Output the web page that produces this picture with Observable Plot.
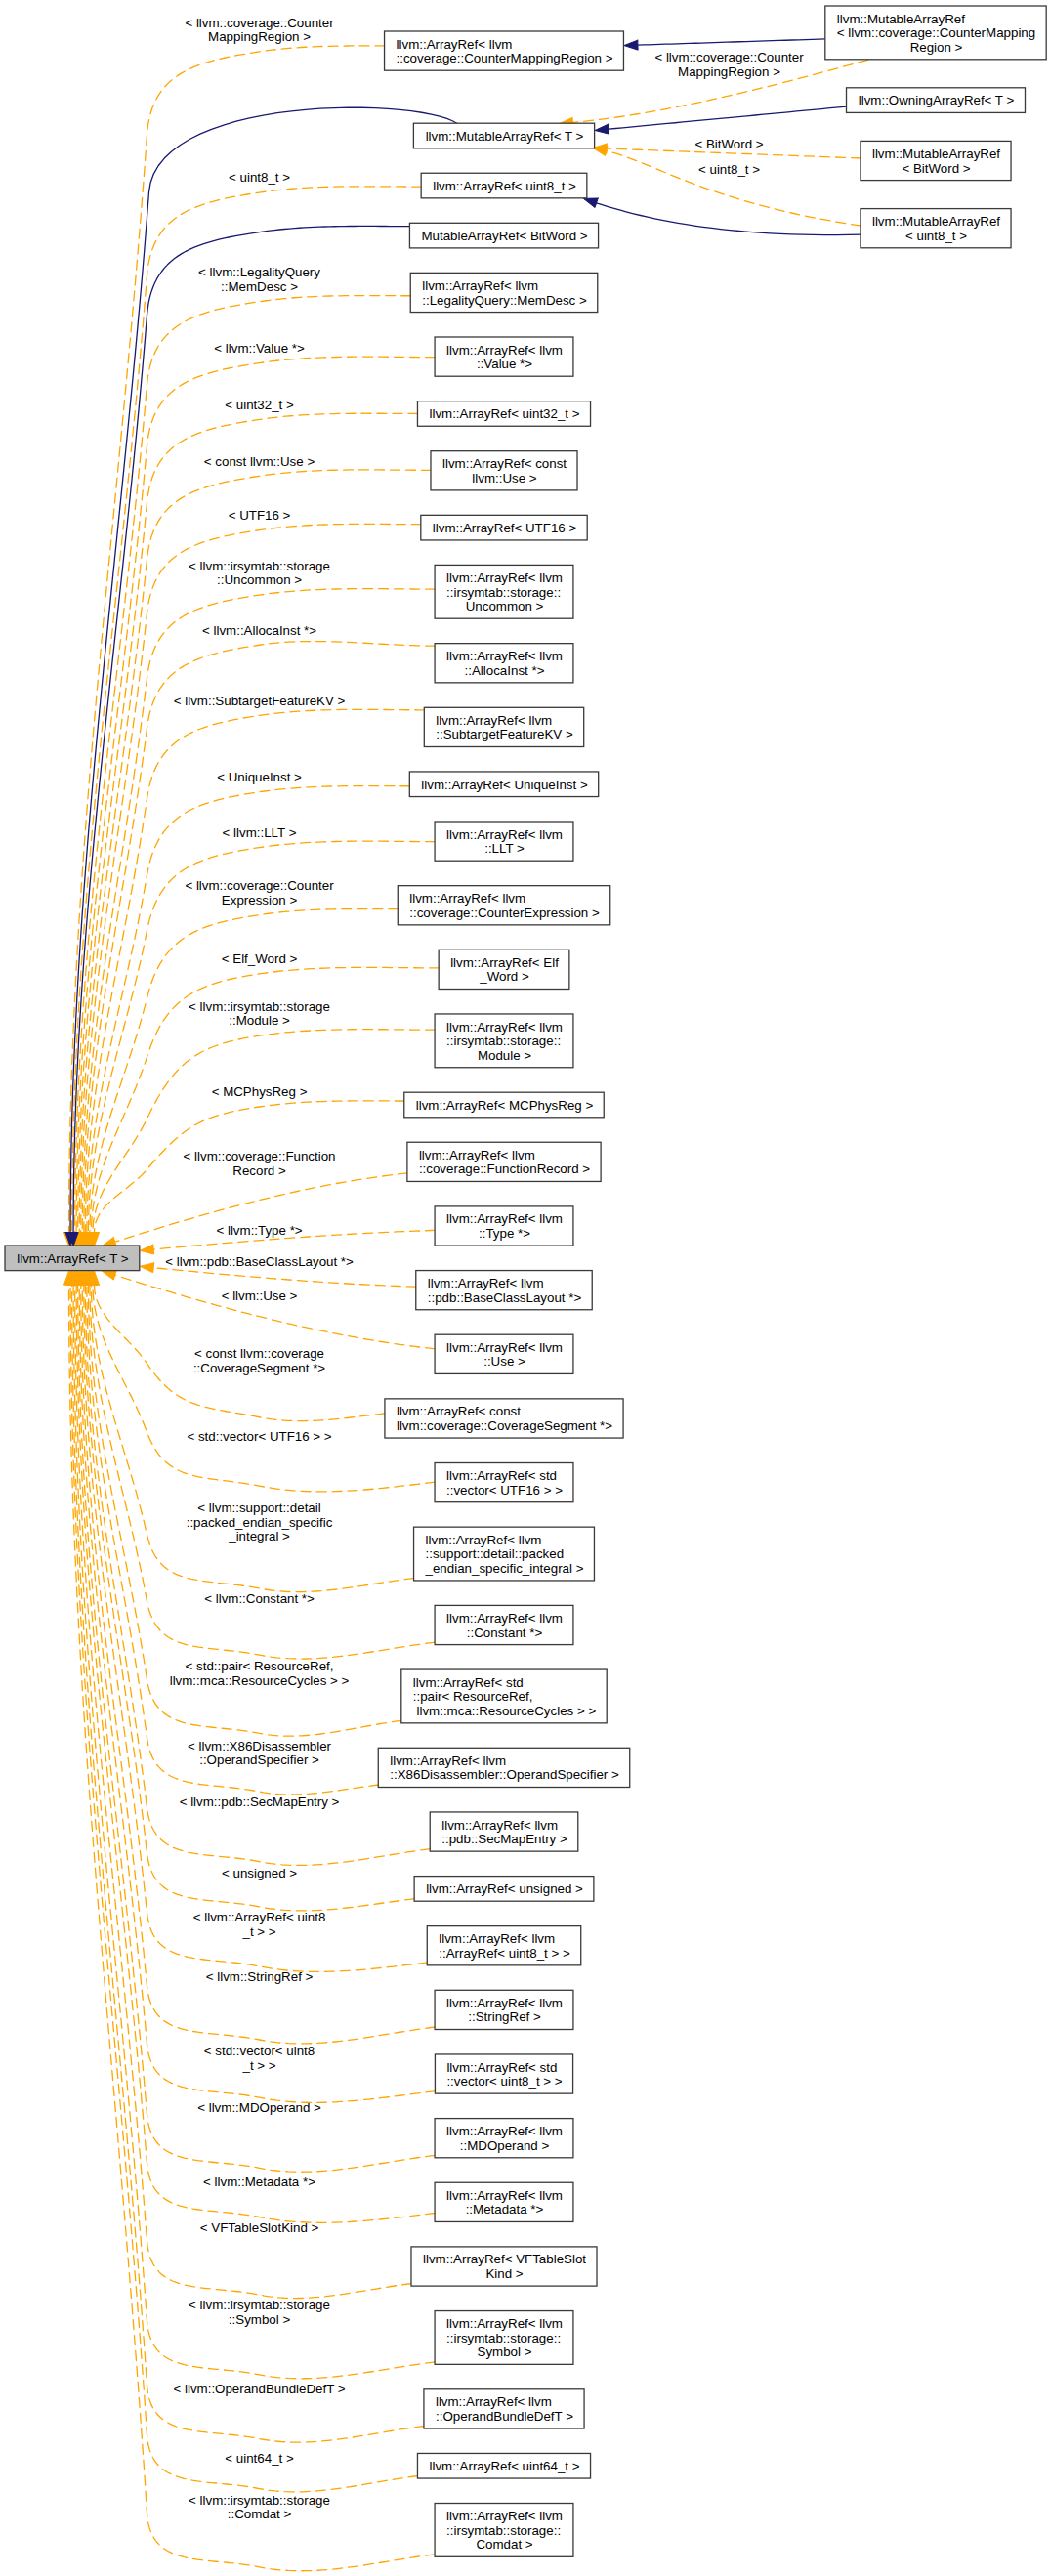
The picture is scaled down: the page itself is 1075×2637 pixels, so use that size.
<!DOCTYPE html>
<html>
<head>
<meta charset="utf-8">
<script src="https://cdn.jsdelivr.net/npm/d3@7"></script>
<script src="https://cdn.jsdelivr.net/npm/@observablehq/plot@0.6"></script>
<style>
  html, body { margin: 0; padding: 0; background: #fff; }
  #chart svg { display: block; }
</style>
</head>
<body>
<div id="chart"></div>
<script>
// ---------------- data ----------------
const rootName = "llvm::ArrayRef< T >";

const columnLabels = [
  "llvm::ArrayRef< llvm\n::coverage::CounterMappingRegion >",
  "llvm::MutableArrayRef< T >",
  "llvm::ArrayRef< uint8_t >",
  "MutableArrayRef< BitWord >",
  "llvm::ArrayRef< llvm\n::LegalityQuery::MemDesc >",
  "llvm::ArrayRef< llvm\n::Value *>",
  "llvm::ArrayRef< uint32_t >",
  "llvm::ArrayRef< const\nllvm::Use >",
  "llvm::ArrayRef< UTF16 >",
  "llvm::ArrayRef< llvm\n::irsymtab::storage::\nUncommon >",
  "llvm::ArrayRef< llvm\n::AllocaInst *>",
  "llvm::ArrayRef< llvm\n::SubtargetFeatureKV >",
  "llvm::ArrayRef< UniqueInst >",
  "llvm::ArrayRef< llvm\n::LLT >",
  "llvm::ArrayRef< llvm\n::coverage::CounterExpression >",
  "llvm::ArrayRef< Elf\n_Word >",
  "llvm::ArrayRef< llvm\n::irsymtab::storage::\nModule >",
  "llvm::ArrayRef< MCPhysReg >",
  "llvm::ArrayRef< llvm\n::coverage::FunctionRecord >",
  "llvm::ArrayRef< llvm\n::Type *>",
  "llvm::ArrayRef< llvm\n::pdb::BaseClassLayout *>",
  "llvm::ArrayRef< llvm\n::Use >",
  "llvm::ArrayRef< const\nllvm::coverage::CoverageSegment *>",
  "llvm::ArrayRef< std\n::vector< UTF16 > >",
  "llvm::ArrayRef< llvm\n::support::detail::packed\n_endian_specific_integral >",
  "llvm::ArrayRef< llvm\n::Constant *>",
  "llvm::ArrayRef< std\n::pair< ResourceRef,\n llvm::mca::ResourceCycles > >",
  "llvm::ArrayRef< llvm\n::X86Disassembler::OperandSpecifier >",
  "llvm::ArrayRef< llvm\n::pdb::SecMapEntry >",
  "llvm::ArrayRef< unsigned >",
  "llvm::ArrayRef< llvm\n::ArrayRef< uint8_t > >",
  "llvm::ArrayRef< llvm\n::StringRef >",
  "llvm::ArrayRef< std\n::vector< uint8_t > >",
  "llvm::ArrayRef< llvm\n::MDOperand >",
  "llvm::ArrayRef< llvm\n::Metadata *>",
  "llvm::ArrayRef< VFTableSlot\nKind >",
  "llvm::ArrayRef< llvm\n::irsymtab::storage::\nSymbol >",
  "llvm::ArrayRef< llvm\n::OperandBundleDefT >",
  "llvm::ArrayRef< uint64_t >",
  "llvm::ArrayRef< llvm\n::irsymtab::storage::\nComdat >"
];

// "t" = template instance (dashed orange), "p" = public inheritance (solid navy)
const columnEdgeKinds = [
  "t","p","t","p","t","t","t","t","t","t",
  "t","t","t","t","t","t","t","t","t","t",
  "t","t","t","t","t","t","t","t","t","t",
  "t","t","t","t","t","t","t","t","t","t"
];

const columnEdgeLabels = [
  "< llvm::coverage::Counter\nMappingRegion >", null, "< uint8_t >", null,
  "< llvm::LegalityQuery\n::MemDesc >", "< llvm::Value *>", "< uint32_t >",
  "< const llvm::Use >", "< UTF16 >", "< llvm::irsymtab::storage\n::Uncommon >",
  "< llvm::AllocaInst *>", "< llvm::SubtargetFeatureKV >", "< UniqueInst >",
  "< llvm::LLT >", "< llvm::coverage::Counter\nExpression >", "< Elf_Word >",
  "< llvm::irsymtab::storage\n::Module >", "< MCPhysReg >",
  "< llvm::coverage::Function\nRecord >", "< llvm::Type *>",
  "< llvm::pdb::BaseClassLayout *>", "< llvm::Use >",
  "< const llvm::coverage\n::CoverageSegment *>", "< std::vector< UTF16 > >",
  "< llvm::support::detail\n::packed_endian_specific\n_integral >",
  "< llvm::Constant *>", "< std::pair< ResourceRef,\nllvm::mca::ResourceCycles > >",
  "< llvm::X86Disassembler\n::OperandSpecifier >", "< llvm::pdb::SecMapEntry >",
  "< unsigned >", "< llvm::ArrayRef< uint8\n_t > >", "< llvm::StringRef >",
  "< std::vector< uint8\n_t > >", "< llvm::MDOperand >", "< llvm::Metadata *>",
  "< VFTableSlotKind >", "< llvm::irsymtab::storage\n::Symbol >",
  "< llvm::OperandBundleDefT >", "< uint64_t >", "< llvm::irsymtab::storage\n::Comdat >"
];

// vertical shift of each edge label relative to its class box (layout)
const columnLabelShift = [
  -22, 0, -8.5, 0, -13.5, -9, -9.5, -10, -13, -19.5,
  -34, -27.5, -7.5, -9, -13, -11, -28, -13.5, 1.5, 4.5,
  -29, -60, -59, -47, -32.5, -27, -24, -15, -30.5, -16.5,
  -22, -34, -16.5, -31, -21, -40, -26, -21, -8, -23.5
];

const outerLabels = [
  "llvm::MutableArrayRef\n< llvm::coverage::CounterMapping\nRegion >",
  "llvm::OwningArrayRef< T >",
  "llvm::MutableArrayRef\n< BitWord >",
  "llvm::MutableArrayRef\n< uint8_t >"
];
const outerEdgeFrom   = [0, 0, 1, 2, 3, 3];      // index into outerLabels
const outerEdgeTo     = [0, 1, 1, 1, 1, 2];      // index into columnLabels
const outerEdgeKinds  = ["p", "t", "p", "t", "t", "p"];
const outerEdgeLabels = [null, "< llvm::coverage::Counter\nMappingRegion >", null, "< BitWord >", "< uint8_t >", null];
const outerLabelShift = [0, 32.5, 0, -17.5, -60.5, 0];

// ---------------- layout ----------------
const W = 1075, H = 2637;
const FS = 13.33, LH = 14.6, PAD = 11.5;
const FONT = '"Liberation Sans", Arial, Helvetica, sans-serif';
const ORANGE = "#FFA500", NAVY = "#191970", BORDER = "#3a3a3a";
const AL = 14, AW = 5;              // arrow length / half width
const COL_X = 516, COL_TOP = 32, GAP = 25.45, FIRST_GAP = 54;
const OUT_X = 958, OUT_TOP = 6, OUT_GAP = 29;
const ROOT_LEFT = 5, TURN_X = 150, RIGHT_LABEL_X = 746;

const ctx = document.createElement("canvas").getContext("2d");
ctx.font = `${FS}px ${FONT}`;
function makeNode(label) {
  const lines = label.split("\n");
  const w = Math.max(...lines.map(s => ctx.measureText(s).width)) + 2 * PAD;
  return {label, lines, w, h: 11 + LH * lines.length};
}
function place(n, cx, top) {
  n.x = cx; n.top = top; n.bottom = top + n.h; n.y = top + n.h / 2;
  n.left = cx - n.w / 2; n.right = cx + n.w / 2;
}
const clamp = (v, a, b) => Math.max(a, Math.min(b, v));
const norm = v => { const l = Math.hypot(v[0], v[1]); return [v[0] / l, v[1] / l]; };
const add = (a, v, s = 1) => [a[0] + v[0] * s, a[1] + v[1] * s];
const dist = (a, b) => Math.hypot(a[0] - b[0], a[1] - b[1]);
function cubic(p0, p1, p2, p3, n = 30) {
  const pts = [];
  for (let i = 0; i <= n; i++) {
    const t = i / n, u = 1 - t;
    const a = u * u * u, b = 3 * u * u * t, c = 3 * u * t * t, d = t * t * t;
    pts.push([a * p0[0] + b * p1[0] + c * p2[0] + d * p3[0], a * p0[1] + b * p1[1] + c * p2[1] + d * p3[1]]);
  }
  return pts;
}
const chain = (...segs) => segs.flatMap((s, i) => i ? s.slice(1) : s);

const col = columnLabels.map(makeNode);
let yy = COL_TOP;
col.forEach((n, i) => { place(n, COL_X, yy); yy = n.bottom + (i === 0 ? FIRST_GAP : GAP); });

const outer = outerLabels.map(makeNode);
yy = OUT_TOP;
outer.forEach(n => { place(n, OUT_X, yy); yy = n.bottom + OUT_GAP; });

const root = makeNode(rootName);
const mid = col.length / 2;
place(root, ROOT_LEFT + root.w / 2, (col[mid - 1].y + col[mid].y) / 2 - root.h / 2);

const LABEL_X = (root.right + Math.min(...col.map(n => n.left))) / 2;

// incoming edge count per column node
const incoming = col.map((_, i) => outerEdgeTo.filter(t => t === i).length);

// label geometry of each column edge
const labelGeo = col.map((n, i) => {
  const lab = columnEdgeLabels[i];
  if (!lab) return null;
  const m = lab.split("\n").length, c = n.y + columnLabelShift[i];
  return {center: c, top: c - (m - 1) / 2 * LH, bottom: c + (m - 1) / 2 * LH};
});

const edges = [];       // {kind, pts, tip, u}
const labelRows = [];   // edge label text lines

function addLabel(text, cx, cy) {
  const lines = text.split("\n");
  lines.forEach((s, j) => labelRows.push({text: s, x: cx, y: cy + (j - (lines.length - 1) / 2) * LH}));
}

// ---- edges from column nodes to root ----
const upper = [], lower = [], direct = [];
col.forEach((n, i) => {
  const dy = n.y - root.y;
  if (Math.abs(dy) < 110) direct.push(i); else if (dy < 0) upper.push(i); else lower.push(i);
});

col.forEach((nd, i) => {
  const kind = columnEdgeKinds[i];
  const lab = columnEdgeLabels[i];
  const g = labelGeo[i];
  if (lab) addLabel(lab, LABEL_X, g.center);
  const Lb = g ? g.bottom : null;

  if (direct.includes(i)) {
    const dy = nd.y - root.y;
    const tip = Math.abs(dy) < 50 ? [root.right, root.y + Math.sign(dy) * 8]
                                  : [root.x + 30, dy < 0 ? root.top : root.bottom];
    const A = [nd.left, nd.y + clamp(-dy * 0.12, -6, 11)];
    const C1 = [A[0] - (A[0] - tip[0]) / 3, A[1] + (tip[1] - A[1]) * 0.15];
    const C2 = [A[0] - 2 * (A[0] - tip[0]) / 3, A[1] + (tip[1] - A[1]) * 0.55];
    const u = norm([tip[0] - C2[0], tip[1] - C2[1]]);
    const base = add(tip, u, -AL);
    edges.push({kind, pts: cubic(A, C1, C2, base), tip, u});
    return;
  }

  if (upper.includes(i)) {
    const k = upper.indexOf(i);
    const xr = 70 + 26 * k / (upper.length - 1);
    const Eb = [xr, root.top - AL];
    let pts;
    if (incoming[i] >= 2) {
      // leaves from the top of the box
      const A = [nd.x - 48, nd.top];
      const T = [TURN_X + 2, nd.top + 70];
      const dir = norm([Eb[0] - T[0], Eb[1] - T[1]]);
      const s1 = cubic(A, [A[0] - 40, A[1] - 28], add(T, dir, -100), T);
      const L = dist(T, Eb);
      const s3 = cubic(T, add(T, dir, L * 0.35), [Eb[0], Eb[1] - L * 0.35], Eb, 40);
      pts = chain(s1, s3);
    } else {
      const By = Lb !== null ? Lb + 15 : nd.y - 4;
      const A = [nd.left, clamp(By - 6, nd.top + 2, nd.bottom - 2)];
      const B = [LABEL_X, By];
      const tB = norm([-1, 0.15]);
      const T = [TURN_X, By + Math.min(85, 0.45 * (root.top - By))];
      const dir = norm([Eb[0] - T[0], Eb[1] - T[1]]);
      const d1 = (A[0] - B[0]) / 3;
      const s1 = cubic(A, [A[0] - d1, A[1]], add(B, tB, -d1), B);
      const d2 = dist(B, T) * 0.45;
      const s2 = cubic(B, add(B, tB, d2), add(T, dir, -d2), T);
      const L = dist(T, Eb);
      const s3 = cubic(T, add(T, dir, L * 0.35), [Eb[0], Eb[1] - L * 0.35], Eb, 40);
      pts = chain(s1, s2, s3);
    }
    edges.push({kind, pts, tip: [xr, root.top], u: [0, 1]});
    return;
  }

  // lower
  const k = lower.indexOf(i);
  const xr = 96 - 26 * k / (lower.length - 1);
  const Eb = [xr, root.bottom + AL];
  let By = (nd.y - root.y > 250 || Lb === null) ? nd.bottom + 10 : Lb + 50;
  const nextG = labelGeo.slice(i + 1).find(d => d);
  if (nextG) By = Math.min(By, nextG.top - 11);
  const A = [nd.left, clamp(By - 4, nd.top + 2, nd.bottom - 3)];
  const B = [LABEL_X, By];
  const tB = norm([-1, -0.2]);
  const T = [TURN_X, By - Math.min(55, 0.45 * (By - root.bottom))];
  const dir = norm([Eb[0] - T[0], Eb[1] - T[1]]);
  const d1 = (A[0] - B[0]) / 3;
  const s1 = cubic(A, [A[0] - d1, A[1] + 0.12 * d1], add(B, tB, -d1), B);
  const d2 = dist(B, T) * 0.45;
  const s2 = cubic(B, add(B, tB, d2), add(T, dir, -d2), T);
  const L = dist(T, Eb);
  const s3 = cubic(T, add(T, dir, L * 0.35), [Eb[0], Eb[1] + L * 0.35], Eb, 40);
  edges.push({kind, pts: chain(s1, s2, s3), tip: [xr, root.bottom], u: [0, -1]});
});

// ---- edges from the outer column ----
const OUTER_SHAPES = [
  [1/3, 1/3, 2/3, 2/3],
  [1/3, 0.45, 2/3, 0.85],
  [1/3, 1/3, 2/3, 2/3],
  [1/3, 1/3, 2/3, 2/3],
  [0.58, 0.3, 0.77, 0.82],
  [0.45, -0.08, 0.75, 0.36]
];
outerEdgeFrom.forEach((f, e) => {
  const src = outer[f], tgt = col[outerEdgeTo[e]];
  const kind = outerEdgeKinds[e];
  let A, tip;
  if (kind === "p") {
    A = [src.left, src.y + 6];
    const below = src.y > tgt.bottom + 20;
    tip = below ? [tgt.right - 4, tgt.bottom] : [tgt.right, tgt.y - 6];
  } else if (src.bottom < tgt.top) {
    A = [src.x - 70, src.bottom];
    tip = [tgt.x + 56, tgt.top];
  } else {
    A = [src.left, src.y - 3];
    tip = [tgt.right - 2, tgt.y + 12];
  }
  const [a1, b1, a2, b2] = OUTER_SHAPES[e];
  const C1 = [A[0] + (tip[0] - A[0]) * a1, A[1] + (tip[1] - A[1]) * b1];
  const C2 = [A[0] + (tip[0] - A[0]) * a2, A[1] + (tip[1] - A[1]) * b2];
  const u = norm([tip[0] - C2[0], tip[1] - C2[1]]);
  const base = add(tip, u, -AL);
  edges.push({kind, pts: cubic(A, C1, C2, base), tip, u});
  if (outerEdgeLabels[e]) addLabel(outerEdgeLabels[e], RIGHT_LABEL_X, src.y + outerLabelShift[e]);
});

// ---- rows for Plot ----
const lineRows = {t: [], p: []}, arrowRows = {t: [], p: []};
edges.forEach((e, id) => {
  e.pts.forEach(([x, y]) => lineRows[e.kind].push({id, x, y}));
  const b = add(e.tip, e.u, -AL), nrm = [-e.u[1], e.u[0]];
  [add(b, nrm, AW), e.tip, add(b, nrm, -AW), add(b, nrm, AW)]
    .forEach(([x, y]) => arrowRows[e.kind].push({id, x, y}));
});

const boxes = [...col, ...outer];
const textRows = [];
[...boxes, root].forEach(n => {
  n.lines.forEach((s, i) => {
    const last = i === n.lines.length - 1;
    textRows.push({
      text: s, last,
      x: last ? n.x : n.left + PAD,
      y: n.y + (i - (n.lines.length - 1) / 2) * LH
    });
  });
});

const textOpts = {fontSize: FS, fontFamily: FONT, fill: "#000"};

const chart = Plot.plot({
  width: W, height: H, margin: 0,
  x: {domain: [0, W], range: [0, W], axis: null},
  y: {domain: [0, H], range: [0, H], axis: null},
  style: {background: "#fff"},
  marks: [
    Plot.line(lineRows.t, {x: "x", y: "y", z: "id", stroke: ORANGE, strokeWidth: 1.3, strokeDasharray: "10,6"}),
    Plot.line(lineRows.p, {x: "x", y: "y", z: "id", stroke: NAVY, strokeWidth: 1.3}),
    Plot.line(arrowRows.t, {x: "x", y: "y", z: "id", stroke: ORANGE, fill: ORANGE, strokeWidth: 1}),
    Plot.line(arrowRows.p, {x: "x", y: "y", z: "id", stroke: NAVY, fill: NAVY, strokeWidth: 1}),
    Plot.rect(boxes, {x1: "left", x2: "right", y1: "top", y2: "bottom", fill: "#fff", stroke: BORDER, strokeWidth: 1.3}),
    Plot.rect([root], {x1: "left", x2: "right", y1: "top", y2: "bottom", fill: "#bfbfbf", stroke: BORDER, strokeWidth: 1.3}),
    Plot.text(textRows.filter(d => !d.last), {x: "x", y: "y", text: "text", textAnchor: "start", ...textOpts}),
    Plot.text(textRows.filter(d => d.last), {x: "x", y: "y", text: "text", textAnchor: "middle", ...textOpts}),
    Plot.text(labelRows, {x: "x", y: "y", text: "text", textAnchor: "middle", ...textOpts})
  ]
});
document.getElementById("chart").append(chart);
</script>
</body>
</html>
